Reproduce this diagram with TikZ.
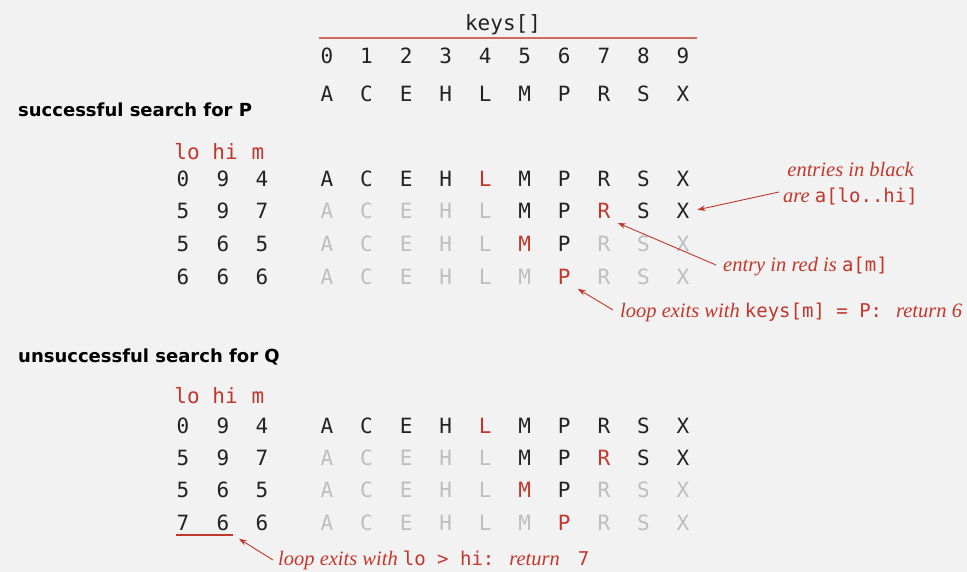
\documentclass[tikz,border=0pt]{standalone}
\usepackage{fontspec}
\setmainfont{Liberation Serif}
\setmonofont{DejaVu Sans Mono}
\newfontfamily\headfont{DejaVu Sans}
\usetikzlibrary{arrows.meta}
\definecolor{bg}{HTML}{F2F2F2}
\definecolor{ink}{HTML}{222222}
\definecolor{hot}{HTML}{C2362B}
\definecolor{dim}{HTML}{BEBEBE}
\definecolor{rulered}{HTML}{D26A5A}

% upright code inside italic notes
\newcommand\code[1]{{\upshape\ttfamily\fontsize{19}{23}\selectfont #1}}

% one trace row: #1 prefix, #2 row, #3 baseline, #4 lo, #5 hi, #6 m
\newcommand\drawkeyrow[6]{%
  \foreach \k [count=\i from 0] in {A,C,E,H,L,M,P,R,S,X} {
    \pgfmathsetmacro\cx{327+39.55*\i}
    \ifnum\i=#6 \def\st{mid}\else
      \ifnum\i<#4 \def\st{off}\else
        \ifnum\i>#5 \def\st{off}\else \def\st{act}\fi\fi\fi
    \node[\st] (#1-#2-\i) at (\cx,#3) {\k};
  }
  \node[act] (#1-#2-lo) at (183,#3) {#4};
  \node[act] (#1-#2-hi) at (223,#3) {#5};
  \node[act] (#1-#2-m)  at (262,#3) {#6};
}

\begin{document}
\begin{tikzpicture}[x=1pt,y=-1pt,
  cell/.style={font=\ttfamily\fontsize{21}{25}\selectfont, anchor=base, inner sep=1pt},
  act/.style={cell, text=ink},
  off/.style={cell, text=dim},
  mid/.style={cell, text=hot},
  colhead/.style={cell, text=hot},
  head/.style={font=\headfont\bfseries\fontsize{18}{22}\selectfont, text=black, anchor=base west, inner sep=0pt},
  note/.style={font=\itshape\fontsize{20.5}{24}\selectfont, text=hot, inner sep=0pt},
  pointer/.style={draw=hot, line width=0.9pt, shorten >=7pt, -{Stealth[length=8pt,width=5.5pt]}},
  redline/.style={draw=hot, line width=1.2pt},
]
\useasboundingbox (0,0) rectangle (967,572);
\fill[bg] (0,0) rectangle (967,572);

% array header
\node[act] (title) at (503,31) {keys[]};
\coordinate (ruleL) at (319,38);
\coordinate (ruleR) at (697,38);
\draw[draw=rulered, line width=1.2pt] (ruleL) -- (ruleR);
\foreach \k [count=\i from 0] in {A,C,E,H,L,M,P,R,S,X} {
  \pgfmathsetmacro\cx{327+39.55*\i}
  \node[act] (idx-\i) at (\cx,64) {\i};
  \node[act] (key-\i) at (\cx,102) {\k};
}

% successful search
\node[head] (shead) at (18,117) {successful search for P};
\node[colhead] (s-lo) at (187,160) {lo};
\node[colhead] (s-hi) at (225,160) {hi};
\node[colhead] (s-m)  at (258,160) {m};
\drawkeyrow{s}{1}{187}{0}{9}{4}
\drawkeyrow{s}{2}{219}{5}{9}{7}
\drawkeyrow{s}{3}{252}{5}{6}{5}
\drawkeyrow{s}{4}{284}{6}{6}{6}

\node[note, anchor=base east] (blk1) at (914,177) {entries in black};
\node[note, anchor=base east] (blk2) at (918,203) {are \code{a[lo..hi]}};
\node[note, anchor=base west] (redm) at (723,272) {entry in red is \code{a[m]}};
\node[note, anchor=base west] (hit)  at (620,317) {loop exits with \code{keys[m] = P:}\hspace{14pt}return 6};

\draw[pointer] ([shift={(-4,-11)}]blk2.base west) -- (s-2-9.east);
\draw[pointer] ([shift={(-7,-7)}]redm.base west) -- (s-2-7.south east);
\draw[pointer] ([shift={(-7,-7)}]hit.base west) -- (s-4-6.south east);

% unsuccessful search
\node[head] (uhead) at (18,362) {unsuccessful search for Q};
\node[colhead] (u-lo) at (187,403) {lo};
\node[colhead] (u-hi) at (225,403) {hi};
\node[colhead] (u-m)  at (258,403) {m};
\drawkeyrow{u}{1}{433}{0}{9}{4}
\drawkeyrow{u}{2}{465}{5}{9}{7}
\drawkeyrow{u}{3}{497}{5}{6}{5}
\drawkeyrow{u}{4}{530}{7}{6}{6}

\coordinate (ulineL) at (176,535);
\coordinate (ulineR) at (233,535);
\path[redline] (ulineL) -- (ulineR);
\node[note, anchor=base west] (miss) at (278,565) {loop exits with \code{lo > hi:}\hspace{15pt}return\hspace{18pt}\code{7}};
\draw[pointer] ([shift={(-5,-5)}]miss.base west) -- (ulineR);
\end{tikzpicture}
\end{document}
